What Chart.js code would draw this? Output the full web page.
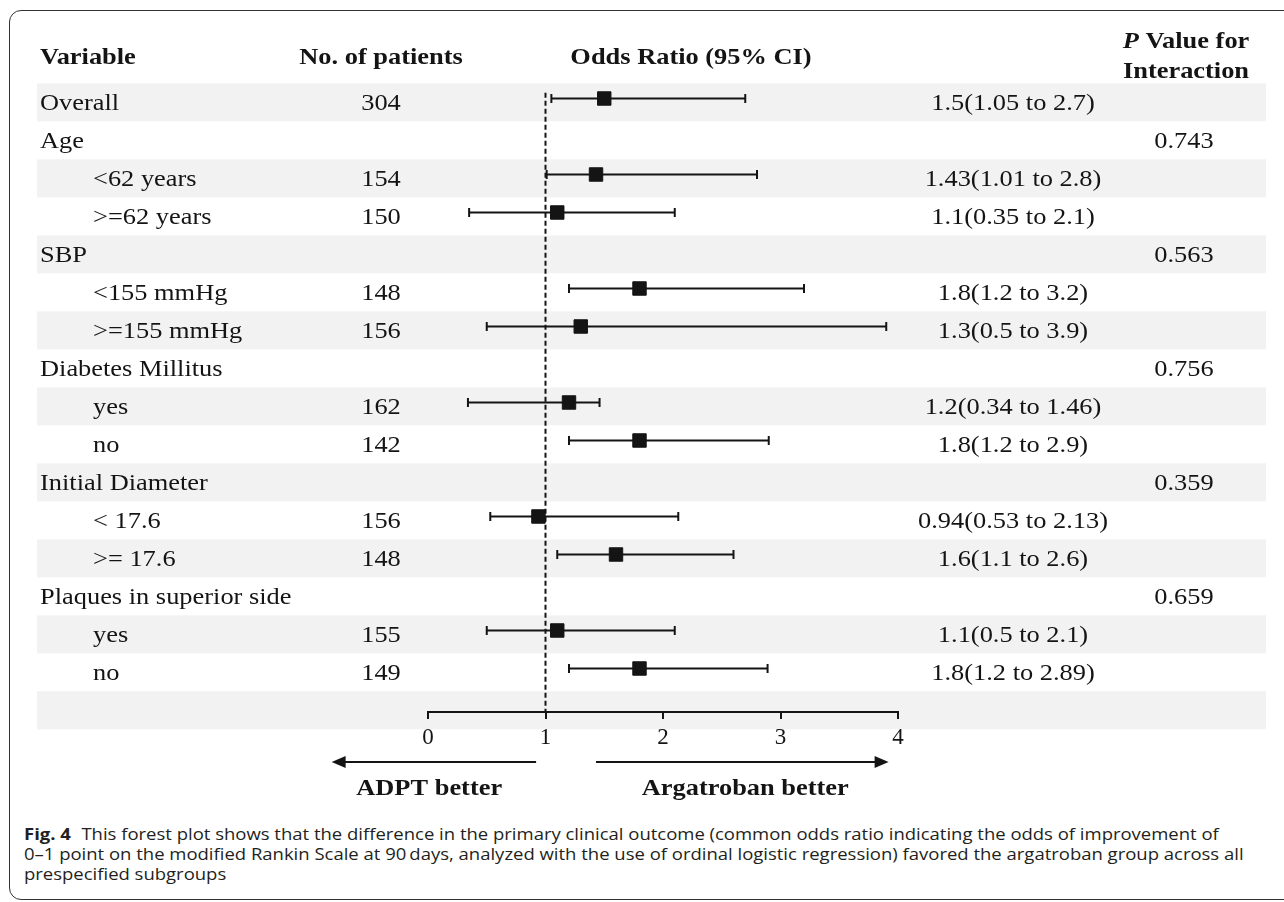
<!DOCTYPE html>
<html>
<head>
<meta charset="utf-8">
<script src="https://cdn.jsdelivr.net/npm/chart.js@4.4.1/dist/chart.umd.min.js"></script>
<style>
  html, body { margin: 0; padding: 0; background: #fff; }
  body { width: 1284px; height: 902px; position: relative; overflow: hidden; }
  #frame { position: absolute; left: 9px; top: 10px; width: 1300px; height: 890px;
           border: 1.5px solid #333; border-radius: 12px; box-sizing: border-box; }
  #myChart { position: absolute; left: 0; top: 0; }
  #caption { position: absolute; left: 24px; top: 824px; font-family: "Open Sans", sans-serif;
             font-size: 16px; line-height: 20px; color: #231f20; white-space: nowrap;
             transform: scaleX(1.155); transform-origin: 0 0; }
  #caption b { font-weight: 700; margin-right: 5px; }
</style>
</head>
<body>
<div id="frame"></div>
<canvas id="myChart" width="1284" height="815"></canvas>
<div id="caption"><b>Fig. 4</b> This forest plot shows that the difference in the primary clinical outcome (common odds ratio indicating the odds of improvement of<br>0–1 point on the modified Rankin Scale at 90&#8201;days, analyzed with the use of ordinal logistic regression) favored the argatroban group across all<br>prespecified subgroups</div>
<script>
/* table data, one entry per row */
const variables = ['Overall', 'Age', '<62 years', '>=62 years', 'SBP', '<155 mmHg', '>=155 mmHg',
  'Diabetes Millitus', 'yes', 'no', 'Initial Diameter', '< 17.6', '>= 17.6',
  'Plaques in superior side', 'yes', 'no'];
const indent = [0, 0, 1, 1, 0, 1, 1, 0, 1, 1, 0, 1, 1, 0, 1, 1];
const patients = ['304', '', '154', '150', '', '148', '156', '', '162', '142', '', '156', '148', '', '155', '149'];
const oddsRatio = [1.5, null, 1.43, 1.1, null, 1.8, 1.3, null, 1.2, 1.8, null, 0.94, 1.6, null, 1.1, 1.8];
const ciLow = [1.05, null, 1.01, 0.35, null, 1.2, 0.5, null, 0.34, 1.2, null, 0.53, 1.1, null, 0.5, 1.2];
const ciHigh = [2.7, null, 2.8, 2.1, null, 3.2, 3.9, null, 1.46, 2.9, null, 2.13, 2.6, null, 2.1, 2.89];
const ciText = ['1.5(1.05 to 2.7)', '', '1.43(1.01 to 2.8)', '1.1(0.35 to 2.1)', '', '1.8(1.2 to 3.2)',
  '1.3(0.5 to 3.9)', '', '1.2(0.34 to 1.46)', '1.8(1.2 to 2.9)', '', '0.94(0.53 to 2.13)',
  '1.6(1.1 to 2.6)', '', '1.1(0.5 to 2.1)', '1.8(1.2 to 2.89)'];
const pInteraction = ['', '0.743', '', '', '0.563', '', '', '0.756', '', '', '0.359', '', '', '0.659', '', ''];
const xTicks = [0, 1, 2, 3, 4];
const refValue = 1;
// direction arrows under the axis, in odds ratio units
const arrowFrom = [0.92, 1.43];
const arrowTo = [-0.82, 3.92];
const arrowLabels = ['ADPT better', 'Argatroban better'];
const arrowLabelAt = [0.01, 2.70];

const INK = '#141414';
const SERIF = '"Liberation Serif", "Times New Roman", serif';
const STRETCH = 1.1;

function put_text(ctx, s, x, y, align, font){
  ctx.save();
  ctx.font = font;
  ctx.fillStyle = INK;
  ctx.textBaseline = 'alphabetic';
  ctx.translate(x, y);
  ctx.scale(STRETCH, 1);
  ctx.textAlign = align;
  ctx.fillText(s, 0, 0);
  ctx.restore();
}

const rows = variables.map((v, i) => i);
const boxes = rows.filter(i => oddsRatio[i] !== null).map(i => ({x: oddsRatio[i], y: i}));

const whiskers = rows.filter(i => oddsRatio[i] !== null).map(i => ({
  type: 'scatter',
  showLine: true,
  order: 1,
  data: [{x: ciLow[i], y: i}, {x: ciHigh[i], y: i}],
  borderColor: INK,
  borderWidth: 2,
  pointStyle: 'line',
  rotation: 90,
  pointRadius: 4.5,
  pointBorderWidth: 2,
  pointBorderColor: INK
}));

const rowBands = {
  id: 'rowBands',
  beforeDraw(chart){
    const ctx = chart.ctx, y = chart.scales.y;
    ctx.save();
    ctx.fillStyle = '#f2f2f2';
    for (let i = 0; i <= variables.length; i += 2) {
      const top = y.getPixelForValue(i - 0.4), bot = y.getPixelForValue(i + 0.6);
      ctx.fillRect(37, top, 1266 - 37, bot - top);
    }
    ctx.restore();
  }
};

const tableText = {
  id: 'tableText',
  afterDraw(chart){
    const ctx = chart.ctx, y = chart.scales.y, x = chart.scales.x;
    const reg = '24px ' + SERIF, bold = 'bold 24px ' + SERIF;

    // headers
    put_text(ctx, 'Variable', 40, 64, 'left', bold);
    put_text(ctx, 'No. of patients', 381, 64, 'center', bold);
    put_text(ctx, 'Odds Ratio (95% CI)', 691, 64, 'center', bold);
    ctx.font = 'bold italic 24px ' + SERIF;
    const wP = ctx.measureText('P').width * STRETCH;
    ctx.font = bold;
    const wRest = ctx.measureText(' Value for').width * STRETCH;
    const startP = 1186 - (wP + wRest) / 2;
    put_text(ctx, 'P', startP, 48, 'left', 'bold italic 24px ' + SERIF);
    put_text(ctx, ' Value for', startP + wP, 48, 'left', bold);
    put_text(ctx, 'Interaction', 1186, 78, 'center', bold);

    rows.forEach(i => {
      const base = y.getPixelForValue(i + 0.1) + 8;
      put_text(ctx, variables[i], indent[i] ? 93 : 40, base, 'left', reg);
      if (patients[i]) put_text(ctx, patients[i], 381, base, 'center', reg);
      if (ciText[i]) put_text(ctx, ciText[i], 1013, base, 'center', reg);
      if (pInteraction[i]) put_text(ctx, pInteraction[i], 1184, base, 'center', reg);
    });

    // arrows and their labels below the axis
    const ay = chart.chartArea.bottom + 50;
    ctx.save();
    ctx.strokeStyle = INK;
    ctx.fillStyle = INK;
    ctx.lineWidth = 2;
    arrowFrom.forEach((v, k) => {
      const x0 = x.getPixelForValue(v), x1 = x.getPixelForValue(arrowTo[k]);
      const dir = Math.sign(x1 - x0);
      ctx.beginPath();
      ctx.moveTo(x0, ay);
      ctx.lineTo(x1 - dir * 10, ay);
      ctx.stroke();
      ctx.beginPath();
      ctx.moveTo(x1, ay);
      ctx.lineTo(x1 - dir * 14, ay - 6);
      ctx.lineTo(x1 - dir * 14, ay + 6);
      ctx.closePath();
      ctx.fill();
      put_text(ctx, arrowLabels[k], x.getPixelForValue(arrowLabelAt[k]), chart.chartArea.bottom + 83, 'center', bold);
    });
    ctx.restore();
  }
};

const ctx = document.getElementById('myChart');
const myChart = new Chart(ctx, {
  type: 'scatter',
  plugins: [rowBands, tableText],
  data: {
    datasets: [{
      label: 'odds ratio',
      order: 0,
      data: boxes,
      pointStyle: 'rect',
      pointRadius: 9.5,
      pointBackgroundColor: INK,
      pointBorderColor: INK,
      pointBorderWidth: 1
    }].concat(whiskers, [{
      label: 'no effect',
      type: 'scatter',
      showLine: true,
      order: 2,
      data: [{x: refValue, y: -0.15}, {x: refValue, y: 16.145}],
      borderColor: INK,
      borderWidth: 2,
      borderDash: [5, 3],
      pointRadius: 0
    }])
  },
  options: {
    responsive: false,
    animation: false,
    events: [],
    layout: { padding: { left: 428, right: 386, top: 22.5, bottom: 0 } },
    plugins: { legend: false, tooltip: { enabled: false } },
    scales: {
      x: {
        type: 'linear',
        min: 0,
        max: 4,
        afterFit: s => { s.height = 815 - 712; },
        afterBuildTicks: s => { s.ticks = xTicks.map(v => ({value: v})); },
        border: { display: true, color: INK, width: 2 },
        grid: { display: true, drawOnChartArea: false, drawTicks: true, tickLength: 7, color: INK, lineWidth: 2 },
        ticks: { color: INK, padding: 5, font: { family: SERIF, size: 23 } }
      },
      y: {
        type: 'linear',
        reverse: true,
        min: -2,
        max: 16.145,
        display: false
      }
    }
  }
});
</script>
</body>
</html>
